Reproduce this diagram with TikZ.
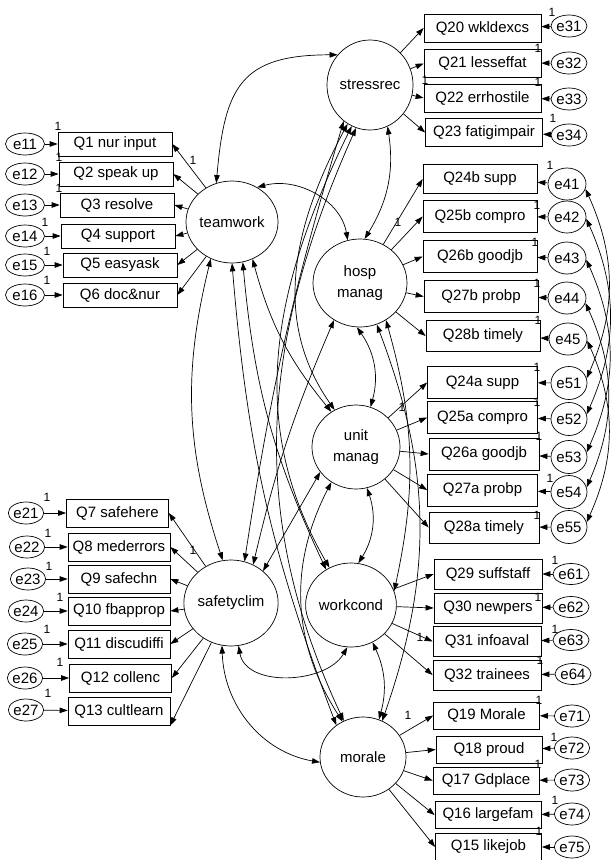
\documentclass[tikz,border=0pt]{standalone}
\usepackage{fontspec}
\setmainfont{Liberation Sans}
\usepackage{tikz}
\usetikzlibrary{arrows.meta,shapes,positioning}

\begin{document}
\begin{tikzpicture}[x=1pt,y=-1pt,>={Triangle[length=8pt,width=5.5pt]},black,line width=0.7pt,
       every node/.style={font=\fontsize{15}{21}\selectfont},
       latentvar/.style 2 args = {ellipse, draw, minimum width=#1, minimum height=#2,
                                  inner sep=0pt, align=center},
       itembox/.style 2 args = {rectangle, draw, minimum width=#1, minimum height=#2, inner sep=0pt},
       errorvar/.style 2 args = {ellipse, draw, minimum width=#1, minimum height=#2, inner sep=0pt},
       fixone/.style = {font=\fontsize{12}{12}\selectfont, inner sep=0pt}]
	\useasboundingbox (0,0) rectangle (612,860);

	%% Latent factors
	\node [latentvar={82pt}{90pt}] (stress) at (370,85) {stressrec};
	\node [latentvar={92pt}{82pt}] (team) at (232,222) {teamwork};
	\node [latentvar={94pt}{88pt}] (hosp) at (360,283) {hosp\\manag};
	\node [latentvar={88pt}{84pt}] (unit) at (356,447) {unit\\manag};
	\node [latentvar={88pt}{84pt}] (work) at (351,605) {workcond};
	\node [latentvar={84pt}{86pt}] (safe) at (231,603) {safetyclim};
	\node [latentvar={86pt}{80pt}] (morale) at (363,757) {morale};

	%% Teamwork items
	\node [itembox={114pt}{24pt}] (q1) at (115,144) {Q1 nur input};
	\node [itembox={114pt}{24pt}] (q2) at (116,174) {Q2 speak up};
	\node [itembox={114pt}{24pt}] (q3) at (117,205) {Q3 resolve};
	\node [itembox={114pt}{24pt}] (q4) at (118,236) {Q4 support};
	\node [itembox={114pt}{24pt}] (q5) at (120,265) {Q5 easyask};
	\node [itembox={114pt}{24pt}] (q6) at (120,295) {Q6 doc\&nur};
	\node [errorvar={39pt}{22pt}] (e11) at (25,144) {e11};
	\node [errorvar={39pt}{22pt}] (e12) at (25,174) {e12};
	\node [errorvar={39pt}{22pt}] (e13) at (25,205) {e13};
	\node [errorvar={39pt}{22pt}] (e14) at (25,236) {e14};
	\node [errorvar={39pt}{22pt}] (e15) at (25,265) {e15};
	\node [errorvar={39pt}{22pt}] (e16) at (25,295) {e16};

	%% Safety climate items
	\node [itembox={102pt}{28pt}] (q7) at (117.5,513) {Q7 safehere};
	\node [itembox={102pt}{28pt}] (q8) at (119,547) {Q8 mederrors};
	\node [itembox={102pt}{28pt}] (q9) at (119,579) {Q9 safechn};
	\node [itembox={102pt}{28pt}] (q10) at (119,611) {Q10 fbapprop};
	\node [itembox={102pt}{28pt}] (q11) at (119,644) {Q11 discudiffi};
	\node [itembox={102pt}{28pt}] (q12) at (120.5,678) {Q12 collenc};
	\node [itembox={102pt}{28pt}] (q13) at (119,711) {Q13 cultlearn};
	\node [errorvar={34pt}{22pt}] (e21) at (26,513) {e21};
	\node [errorvar={34pt}{22pt}] (e22) at (27,547) {e22};
	\node [errorvar={34pt}{22pt}] (e23) at (28,579) {e23};
	\node [errorvar={34pt}{22pt}] (e24) at (26,611) {e24};
	\node [errorvar={34pt}{22pt}] (e25) at (25,644) {e25};
	\node [errorvar={34pt}{22pt}] (e26) at (25,678) {e26};
	\node [errorvar={34pt}{22pt}] (e27) at (26,710) {e27};

	%% Stress recognition items
	\node [itembox={117pt}{28pt}] (q20) at (482.5,28) {Q20 wkldexcs};
	\node [itembox={117pt}{28pt}] (q21) at (482.5,63.5) {Q21 lesseffat};
	\node [itembox={117pt}{28pt}] (q22) at (482.5,98) {Q22 errhostile};
	\node [itembox={117pt}{28pt}] (q23) at (484,132.5) {Q23 fatigimpair};
	\node [errorvar={36pt}{22pt}] (e31) at (569,26) {e31};
	\node [errorvar={36pt}{22pt}] (e32) at (569,63) {e32};
	\node [errorvar={36pt}{22pt}] (e33) at (569,99) {e33};
	\node [errorvar={36pt}{22pt}] (e34) at (569,135) {e34};

	%% Hospital management items
	\node [itembox={114pt}{29pt}] (q24b) at (480,179) {Q24b supp};
	\node [itembox={114pt}{32pt}] (q25b) at (480,216.5) {Q25b compro};
	\node [itembox={114pt}{32pt}] (q26b) at (480,256.5) {Q26b goodjb};
	\node [itembox={114pt}{32pt}] (q27b) at (481,296.5) {Q27b probp};
	\node [itembox={114pt}{31pt}] (q28b) at (483,336) {Q28b timely};
	\node [errorvar={38pt}{32pt}] (e41) at (567,184) {e41};
	\node [errorvar={38pt}{32pt}] (e42) at (567,217) {e42};
	\node [errorvar={38pt}{32pt}] (e43) at (567,258) {e43};
	\node [errorvar={38pt}{32pt}] (e44) at (567,298) {e44};
	\node [errorvar={38pt}{32pt}] (e45) at (568,339) {e45};

	%% Unit management items
	\node [itembox={110pt}{32pt}] (q24a) at (482.5,382.5) {Q24a supp};
	\node [itembox={110pt}{32pt}] (q25a) at (482.5,417.5) {Q25a compro};
	\node [itembox={110pt}{32pt}] (q26a) at (484,454) {Q26a goodjb};
	\node [itembox={110pt}{32pt}] (q27a) at (482.5,490) {Q27a probp};
	\node [itembox={110pt}{31pt}] (q28a) at (484,527.5) {Q28a timely};
	\node [errorvar={36pt}{33pt}] (e51) at (569,383) {e51};
	\node [errorvar={36pt}{33pt}] (e52) at (569,419) {e52};
	\node [errorvar={36pt}{33pt}] (e53) at (569,457) {e53};
	\node [errorvar={36pt}{33pt}] (e54) at (569,492) {e54};
	\node [errorvar={36pt}{33pt}] (e55) at (569,527) {e55};

	%% Working conditions items
	\node [itembox={108pt}{30pt}] (q29) at (488,574) {Q29 suffstaff};
	\node [itembox={108pt}{30pt}] (q30) at (488,608) {Q30 newpers};
	\node [itembox={108pt}{30pt}] (q31) at (487,641.5) {Q31 infoaval};
	\node [itembox={108pt}{30pt}] (q32) at (487,675) {Q32 trainees};
	\node [errorvar={36pt}{21pt}] (e61) at (571,574) {e61};
	\node [errorvar={36pt}{21pt}] (e62) at (571,607) {e62};
	\node [errorvar={36pt}{21pt}] (e63) at (571,640) {e63};
	\node [errorvar={36pt}{21pt}] (e64) at (573,674) {e64};

	%% Morale items
	\node [itembox={106pt}{27pt}] (q19) at (486.5,715.5) {Q19 Morale};
	\node [itembox={106pt}{27pt}] (q18) at (489,749.5) {Q18 proud};
	\node [itembox={106pt}{27pt}] (q17) at (486,780.5) {Q17 Gdplace};
	\node [itembox={106pt}{27pt}] (q16) at (488,815) {Q16 largefam};
	\node [itembox={106pt}{27pt}] (q15) at (488.5,847) {Q15 likejob};
	\node [errorvar={33pt}{22pt}] (e71) at (572,716) {e71};
	\node [errorvar={33pt}{22pt}] (e72) at (572,748) {e72};
	\node [errorvar={33pt}{22pt}] (e73) at (572,780) {e73};
	\node [errorvar={33pt}{22pt}] (e74) at (572,814) {e74};
	\node [errorvar={33pt}{22pt}] (e75) at (572,847) {e75};

	%% Loadings
	\draw[->] (team) -- (q1.east);   \draw[->] (team) -- (q2.east);
	\draw[->] (team) -- (q3.east);   \draw[->] (team) -- (q4.east);
	\draw[->] (team) -- (q5.east);   \draw[->] (team) -- (q6.east);
	\draw[->] (safe) -- (q7.east);   \draw[->] (safe) -- (q8.east);
	\draw[->] (safe) -- (q9.east);   \draw[->] (safe) -- (q10.east);
	\draw[->] (safe) -- (q11.east);  \draw[->] (safe) -- (q12.east);
	\draw[->] (safe) -- (q13.south east);
	\draw[->] (stress) -- (q20.west); \draw[->] (stress) -- (q21.west);
	\draw[->] (stress) -- (q22.west); \draw[->] (stress) -- (q23.west);
	\draw[->] (hosp) -- (q24b.west); \draw[->] (hosp) -- (q25b.west);
	\draw[->] (hosp) -- (q26b.west); \draw[->] (hosp) -- (q27b.west);
	\draw[->] (hosp) -- (q28b.west);
	\draw[->] (unit) -- (q24a.west); \draw[->] (unit) -- (q25a.west);
	\draw[->] (unit) -- (q26a.west); \draw[->] (unit) -- (q27a.west);
	\draw[->] (unit) -- (q28a.west);
	\draw[->] (work) -- (q29.west);  \draw[->] (work) -- (q30.west);
	\draw[->] (work) -- (q31.west);  \draw[->] (work) -- (q32.west);
	\draw[->] (morale) -- (q19.west); \draw[->] (morale) -- (q18.west);
	\draw[->] (morale) -- (q17.west); \draw[->] (morale) -- (q16.west);
	\draw[->] (morale) -- (q15.west);

	%% Error terms
	\draw[->] (e11) -- (q1);  \draw[->] (e12) -- (q2);  \draw[->] (e13) -- (q3);
	\draw[->] (e14) -- (q4);  \draw[->] (e15) -- (q5);  \draw[->] (e16) -- (q6);
	\draw[->] (e21) -- (q7);  \draw[->] (e22) -- (q8);  \draw[->] (e23) -- (q9);
	\draw[->] (e24) -- (q10); \draw[->] (e25) -- (q11); \draw[->] (e26) -- (q12);
	\draw[->] (e27) -- (q13);
	\draw[->] (e31) -- (q20); \draw[->] (e32) -- (q21); \draw[->] (e33) -- (q22);
	\draw[->] (e34) -- (q23);
	\draw[->] (e41) -- (q24b); \draw[->] (e42) -- (q25b); \draw[->] (e43) -- (q26b);
	\draw[->] (e44) -- (q27b); \draw[->] (e45) -- (q28b);
	\draw[->] (e51) -- (q24a); \draw[->] (e52) -- (q25a); \draw[->] (e53) -- (q26a);
	\draw[->] (e54) -- (q27a); \draw[->] (e55) -- (q28a);
	\draw[->] (e61) -- (q29); \draw[->] (e62) -- (q30); \draw[->] (e63) -- (q31);
	\draw[->] (e64) -- (q32);
	\draw[->] (e71) -- (q19); \draw[->] (e72) -- (q18); \draw[->] (e73) -- (q17);
	\draw[->] (e74) -- (q16); \draw[->] (e75) -- (q15);

	%% Fixed parameters
	\node [fixone] (f1) at (193,160) {1};  \node [fixone] (f2) at (193,550) {1};
	\node [fixone] (f3) at (425,80) {1};   \node [fixone] (f4) at (398,222) {1};
	\node [fixone] (f5) at (402,407) {1};  \node [fixone] (f6) at (420,637) {1};
	\node [fixone] (f7) at (408,715) {1};
	\node [fixone] (f11) at (58,126) {1};  \node [fixone] (f12) at (59,157) {1};
	\node [fixone] (f13) at (59,188) {1};  \node [fixone] (f14) at (45,222) {1};
	\node [fixone] (f15) at (47,251) {1};  \node [fixone] (f16) at (47,280) {1};
	\node [fixone] (f21) at (47,497) {1};  \node [fixone] (f22) at (48,533) {1};
	\node [fixone] (f23) at (49,566) {1};  \node [fixone] (f24) at (60,597) {1};
	\node [fixone] (f25) at (47,629) {1};  \node [fixone] (f26) at (60,662) {1};
	\node [fixone] (f27) at (48,693) {1};
	\node [fixone] (f31) at (552,12) {1};  \node [fixone] (f32) at (538,48) {1};
	\node [fixone] (f33) at (538,82) {1};  \node [fixone] (f34) at (553,118) {1};
	\node [fixone] (f41) at (550,165) {1}; \node [fixone] (f42) at (537,205) {1};
	\node [fixone] (f43) at (535,242) {1}; \node [fixone] (f44) at (537,283) {1};
	\node [fixone] (f45) at (538,320) {1};
	\node [fixone] (f51) at (537,367) {1}; \node [fixone] (f52) at (537,402) {1};
	\node [fixone] (f53) at (539,436) {1}; \node [fixone] (f54) at (550,478) {1};
	\node [fixone] (f55) at (537,515) {1};
	\node [fixone] (f61) at (555,560) {1}; \node [fixone] (f62) at (538,597) {1};
	\node [fixone] (f63) at (555,629) {1}; \node [fixone] (f64) at (540,660) {1};
	\node [fixone] (f71) at (539,700) {1}; \node [fixone] (f72) at (554,737) {1};
	\node [fixone] (f73) at (538,764) {1}; \node [fixone] (f74) at (555,800) {1};
	\node [fixone] (f75) at (539,831) {1};

	%% Factor covariances
	\draw[<->] (team.112) to[out=85,in=180,looseness=1.4] (stress.137);
	\draw[<->] (team.54) to[out=15,in=100] (hosp.106);
	\draw[<->] (stress.293) to[bend left=20] (hosp.84);
	\draw[<->] (hosp.266) to[bend left=25] (unit.70);
	\draw[<->] (unit.285) to[bend left=25] (work.80);
	\draw[<->] (work.300) to[bend left=20] (morale.67);
	\draw[<->] (safe.280) to[out=-80,in=-120] (work.265);
	\draw[<->] (safe.258) to[out=-88,in=170] (morale.187);
	\draw[<->] (team.240) to[bend right=16] (safe.101);
	\draw[<->] (team.299) to[bend right=12] (unit.125);
	\draw[<->] (team.285) to[bend right=10] (work.125);
	\draw[<->] (team.270) to[bend right=8] (morale.130);
	\draw[<->] (stress.234) to[bend right=4] (safe.72);
	\draw[<->] (stress.240) to[out=-118,in=125] (unit.120);
	\draw[<->] (stress.246) to[out=-116,in=120] (work.120);
	\draw[<->] (stress.252) to[out=-114,in=115] (morale.118);
	\draw[<->] (hosp.235) to[bend right=5] (safe.60);
	\draw[<->] (hosp.305) to[bend left=14] (work.18);
	\draw[<->] (hosp.292) to[bend left=20] (morale.62);
	\draw[<->] (unit.215) to (safe.45);
	\draw[<->] (unit.235) to[bend right=30] (morale.120);

	%% Error covariances
	\draw[<->] (e41.-15) to[bend left=24] (e51.15);
	\draw[<->] (e42.-5) to[bend left=24] (e52.15);
	\draw[<->] (e43.-5) to[bend left=24] (e53.15);
	\draw[<->] (e44.-15) to[bend left=24] (e54.15);
	\draw[<->] (e45.-5) to[bend left=24] (e55.15);
\end{tikzpicture}
\end{document}
